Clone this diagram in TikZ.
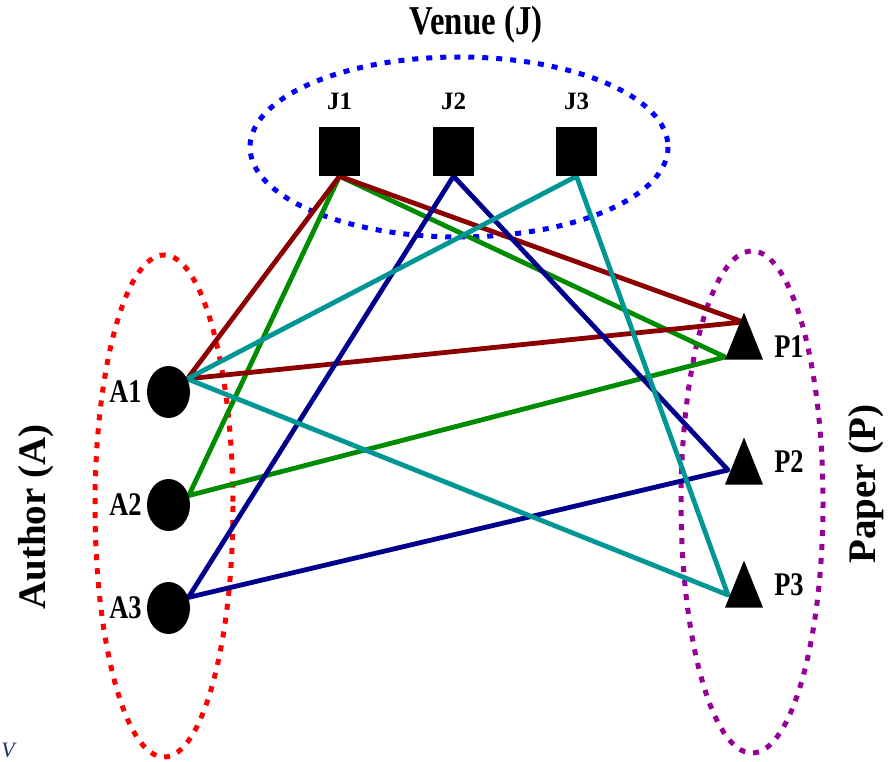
\documentclass[tikz,border=0pt]{standalone}
\usepackage{fontspec}
\setmainfont{Liberation Serif}
\newfontfamily\tallserif[FakeStretch=0.8]{Liberation Serif}
\usetikzlibrary{shapes.geometric, positioning, backgrounds}

\definecolor{linered}{RGB}{140,0,0}
\definecolor{linegreen}{RGB}{0,140,0}
\definecolor{linenavy}{RGB}{0,0,140}
\definecolor{lineteal}{RGB}{0,150,150}
\definecolor{setblue}{RGB}{0,0,255}
\definecolor{setred}{RGB}{255,0,0}
\definecolor{setpurple}{RGB}{150,0,150}
\definecolor{captionblue}{RGB}{30,50,120}

\begin{document}
\begin{tikzpicture}[x=1pt, y=-1pt,
    venue/.style={rectangle, fill=black, minimum width=41pt, minimum height=49pt, inner sep=0pt},
    author/.style={ellipse, fill=black, minimum width=43pt, minimum height=52pt, inner sep=0pt},
    paper/.style={regular polygon, regular polygon sides=3, fill=black, minimum size=44pt,
                  inner sep=0pt, yscale=1.43, transform shape, anchor=south},
    lab/.style={inner sep=0pt, font=\tallserif\bfseries\fontsize{33}{36}\selectfont},
    jlab/.style={inner sep=0pt, font=\bfseries\fontsize{25}{30}\selectfont},
    settitle/.style={inner sep=0pt, font=\bfseries\fontsize{39}{42}\selectfont},
    dotset/.style={line width=5pt, dash pattern=on 6pt off 8pt},
    link/.style={line width=4.8pt, line join=round}]

  \useasboundingbox (0,0) rectangle (894,762);

  % venues
  \node [venue] (J1) at (339.5,151.5) {};
  \node [venue] (J2) at (453.5,151.5) {};
  \node [venue] (J3) at (576.5,151.5) {};
  \node [jlab, above=17pt of J1] (J1lab) {J1};
  \node [jlab, above=17pt of J2] (J2lab) {J2};
  \node [jlab, above=17pt of J3] (J3lab) {J3};

  % authors
  \node [author] (A1) at (168.5,392) {};
  \node [author] (A2) at (168.5,505) {};
  \node [author] (A3) at (168.5,608) {};
  \node [lab, left=5pt of A1] (A1lab) {A1};
  \node [lab, left=5pt of A2] (A2lab) {A2};
  \node [lab, left=5pt of A3] (A3lab) {A3};

  % papers
  \node [paper] (P1) at (744,360) {};
  \node [paper] (P2) at (744,485) {};
  \node [paper] (P3) at (744,608) {};
  \node [lab] (P1lab) at (789,347) {P1};
  \node [lab] (P2lab) at (789,462) {P2};
  \node [lab] (P3lab) at (789,585) {P3};

  \coordinate (p1top) at (743,322);
  \coordinate (p1low) at (725,357);
  \coordinate (p2in) at (728,470);
  \coordinate (p3in) at (728,595);

  % titles
  \node [settitle, font=\tallserif\bfseries\fontsize{41}{44}\selectfont] (venuetitle) at (476,25) {Venue (J)};
  \node [settitle, rotate=90] (authortitle) at (36,517) {Author (A)};
  \node [settitle, rotate=90] (papertitle) at (866,484) {Paper (P)};
  \node [inner sep=0pt, text=captionblue, font=\itshape\fontsize{22}{24}\selectfont] (cut) at (8,750) {V};

  \begin{pgfonlayer}{background}
    \draw [dotset, setblue] (459,147) ellipse [x radius=209, y radius=90];
    \draw [dotset, setred] (164,506) ellipse [x radius=69, y radius=251];
    \draw [dotset, setpurple] (752,502) ellipse [x radius=71, y radius=251];

    \draw [link, linegreen] (J1.south) -- (A2.25) -- (p1low) -- cycle;
    \draw [link, linered] (J1.south) -- (A1.35) -- (p1top) -- cycle;
    \draw [link, linenavy] (J2.south) -- (A3.28) -- (p2in) -- cycle;
    \draw [link, lineteal] (J3.south) -- (A1.35) -- (p3in) -- cycle;
  \end{pgfonlayer}
\end{tikzpicture}
\end{document}
